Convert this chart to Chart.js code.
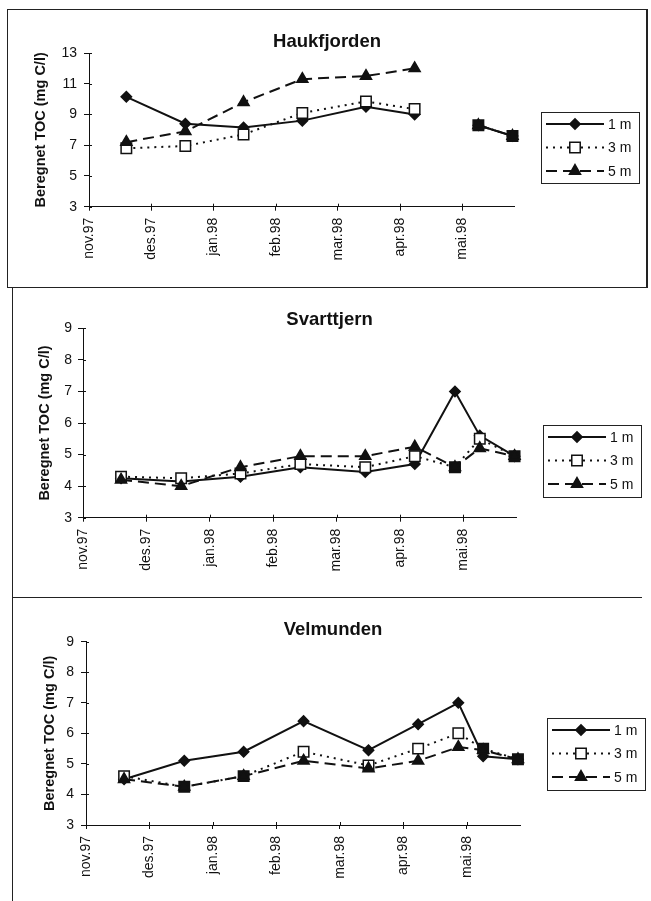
<!DOCTYPE html>
<html>
<head>
<meta charset="utf-8">
<title>Beregnet TOC</title>
<script src="https://cdn.jsdelivr.net/npm/chart.js@4.4.1/dist/chart.umd.min.js"></script>
<style>
  html, body { margin: 0; padding: 0; background: #fff; }
  body { width: 651px; height: 901px; position: relative; overflow: hidden; }
  .rule { position: absolute; background: #222; }
  canvas { position: absolute; left: 0; }
</style>
</head>
<body>
<!-- panel frames -->
<div class="rule" style="left:7px;top:9px;width:641px;height:1px"></div>
<div class="rule" style="left:7px;top:9px;width:1px;height:279px"></div>
<div class="rule" style="left:646px;top:9px;width:2px;height:279px"></div>
<div class="rule" style="left:7px;top:287px;width:641px;height:1px"></div>
<div class="rule" style="left:12px;top:287px;width:1px;height:614px"></div>
<div class="rule" style="left:12px;top:597px;width:630px;height:1px"></div>

<canvas id="haukfjorden" width="651" height="290" style="top:0px"></canvas>
<canvas id="svarttjern" width="651" height="305" style="top:290px"></canvas>
<canvas id="velmunden" width="651" height="304" style="top:597px"></canvas>

<script>
// Month ticks along the time axis
const monthLabels = ['nov.97', 'des.97', 'jan.98', 'feb.98', 'mar.98', 'apr.98', 'mai.98'];
// Sampling dates
const sampleDates = ['1997-11-19', '1997-12-18', '1998-01-16', '1998-02-13', '1998-03-15',
                     '1998-04-08', '1998-04-27', '1998-05-09', '1998-05-26'];
const axisEndDate = '1998-05-27';
const depthLabels = ['1 m', '3 m', '5 m'];

// TOC (mg C/l) per depth
const haukfjorden1m = [10.15, 8.4, 8.15, 8.6, 9.5, 9.0, null, 8.3, 7.6];
const haukfjorden3m = [6.8, 6.95, 7.7, 9.1, 9.85, 9.35, null, 8.3, 7.6];
const haukfjorden5m = [7.2, 7.9, 9.8, 11.3, 11.5, 12.0, null, 8.3, 7.6];

const svarttjern1m = [4.25, 4.15, 4.3, 4.6, 4.45, 4.7, 7.0, 5.6, 4.95];
const svarttjern3m = [4.3, 4.25, 4.4, 4.7, 4.6, 4.95, 4.6, 5.5, 4.95];
const svarttjern5m = [4.2, 4.0, 4.6, 4.95, 4.95, 5.25, 4.6, 5.2, 4.95];

const velmunden1m = [4.5, 5.1, 5.4, 6.4, 5.45, 6.3, 7.0, 5.25, 5.15];
const velmunden3m = [4.6, 4.25, 4.6, 5.4, 4.95, 5.5, 6.0, 5.5, 5.15];
const velmunden5m = [4.5, 4.25, 4.6, 5.1, 4.85, 5.1, 5.55, 5.45, 5.15];

// Y tick values
const haukTicks = [3, 5, 7, 9, 11, 13];
const lakeTicks = [3, 4, 5, 6, 7, 8, 9];

const FONT = '"Liberation Sans", Arial, Helvetica, sans-serif';
const INK = '#111';

// months since 1 Nov 1997, with the day as a fraction of its month
function monthIndex(s) {
  const [y, m, d] = s.split('-').map(Number);
  const days = new Date(y, m, 0).getDate();
  return (y - 1997) * 12 + (m - 1) - 10 + (d - 1) / days;
}

const seriesStyles = [
  { pointStyle: 'rectRot', radius: 5.2, fill: INK, dash: [], order: 2 },
  { pointStyle: 'rect', radius: 7.4, fill: '#fff', dash: [2, 5], order: 1 },
  { pointStyle: 'triangle', radius: 6.4, fill: INK, dash: [11, 6], order: 0 }
];

// Title, legend box and inner halves of the cross tick marks
const panelDecor = {
  id: 'panelDecor',
  afterDraw(chart) {
    const o = chart.options.plugins.panelDecor;
    const ctx = chart.ctx;
    const xs = chart.scales.x, ys = chart.scales.y;
    ctx.save();
    ctx.strokeStyle = INK;
    ctx.lineWidth = 1;
    ctx.beginPath();
    xs.ticks.forEach(t => {
      const px = Math.round(xs.getPixelForValue(t.value)) + 0.5;
      ctx.moveTo(px, ys.bottom);
      ctx.lineTo(px, ys.bottom - 3);
    });
    ys.ticks.forEach(t => {
      const py = Math.round(ys.getPixelForValue(t.value)) + 0.5;
      ctx.moveTo(xs.left, py);
      ctx.lineTo(xs.left + 3, py);
    });
    ctx.stroke();

    ctx.fillStyle = INK;
    ctx.font = 'bold 18.5px ' + FONT;
    ctx.textAlign = 'center';
    ctx.textBaseline = 'middle';
    ctx.fillText(o.title, o.titleX, o.titleY);

    const L = o.legend;
    ctx.lineWidth = 1;
    ctx.strokeStyle = '#222';
    ctx.strokeRect(Math.round(L.x) + 0.5, Math.round(L.y) + 0.5, L.w, L.h);
    ctx.font = '14px ' + FONT;
    ctx.textAlign = 'left';
    chart.data.datasets.forEach((ds, i) => {
      const st = seriesStyles[i];
      const ry = L.y + 12 + i * 23.5;
      ctx.save();
      ctx.strokeStyle = INK;
      ctx.lineWidth = 2;
      ctx.setLineDash(st.dash);
      ctx.beginPath();
      ctx.moveTo(L.x + 5, ry);
      ctx.lineTo(L.x + 63, ry);
      ctx.stroke();
      ctx.restore();
      ctx.save();
      ctx.fillStyle = st.fill;
      ctx.strokeStyle = INK;
      ctx.lineWidth = 1.5;
      Chart.helpers.drawPoint(ctx, { pointStyle: st.pointStyle, radius: st.radius, rotation: 0, borderWidth: 1.5 }, L.x + 34, ry);
      ctx.restore();
      ctx.fillStyle = INK;
      ctx.fillText(ds.label, L.x + 67, ry + 1);
    });
    ctx.restore();
  }
};

function buildPanel(id, title, series, yTicks, lay) {
  const xs = sampleDates.map(monthIndex);
  const deepest = series[series.length - 1];
  const datasets = series.map((vals, i) => {
    const st = seriesStyles[i];
    // a hollow square that coincides with the 5 m triangle prints as a solid square
    const fill = st.fill === '#fff'
      ? c => (vals[c.dataIndex] != null && deepest[c.dataIndex] != null &&
              Math.abs(vals[c.dataIndex] - deepest[c.dataIndex]) < 0.06 ? INK : '#fff')
      : st.fill;
    return {
      label: depthLabels[i],
      data: vals.map((v, k) => ({ x: xs[k], y: v })),
      borderColor: INK,
      borderWidth: 2,
      borderDash: st.dash,
      pointStyle: st.pointStyle,
      pointRadius: st.radius,
      pointBackgroundColor: fill,
      pointBorderColor: INK,
      pointBorderWidth: 1.5,
      tension: 0,
      spanGaps: false,
      clip: false,
      order: st.order
    };
  });

  return new Chart(document.getElementById(id), {
    type: 'line',
    data: { datasets },
    options: {
      responsive: false,
      animation: false,
      events: [],
      layout: { padding: { left: lay.padLeft, right: lay.padRight, top: lay.padTop, bottom: lay.padBottom } },
      scales: {
        x: {
          type: 'linear',
          min: 0,
          max: monthIndex(axisEndDate),
          afterBuildTicks: s => { s.ticks = monthLabels.map((_, i) => ({ value: i })); },
          afterFit: s => { s.height = 60; },
          border: { display: true, color: INK, width: 1 },
          grid: { display: true, drawOnChartArea: false, drawTicks: true, tickLength: 4, tickColor: INK },
          ticks: {
            autoSkip: false,
            minRotation: 90,
            maxRotation: 90,
            padding: 7,
            color: INK,
            font: { family: FONT, size: 14 },
            callback: v => monthLabels[Math.round(v)]
          }
        },
        y: {
          min: yTicks[0],
          max: yTicks[yTicks.length - 1],
          afterBuildTicks: s => { s.ticks = yTicks.map(v => ({ value: v })); },
          afterFit: s => { s.width = lay.yWidth; },
          border: { display: true, color: INK, width: 1 },
          grid: { display: true, drawOnChartArea: false, drawTicks: true, tickLength: 5, tickColor: INK },
          ticks: { padding: lay.tickPad, color: INK, font: { family: FONT, size: 14 } },
          title: {
            display: true,
            text: 'Beregnet TOC (mg C/l)',
            color: INK,
            font: { family: FONT, size: 14.5, weight: 'bold' },
            padding: { top: 4, bottom: 0 }
          }
        }
      },
      plugins: {
        legend: { display: false },
        tooltip: { enabled: false },
        panelDecor: {
          title: title,
          titleX: lay.titleX,
          titleY: lay.titleY,
          legend: lay.legend
        }
      }
    },
    plugins: [panelDecor]
  });
}

buildPanel('haukfjorden', 'Haukfjorden', [haukfjorden1m, haukfjorden3m, haukfjorden5m], haukTicks, {
  padLeft: 28.3, yWidth: 60.7, padRight: 136.5, padTop: 53, padBottom: 23.3, tickPad: 7,
  titleX: 327, titleY: 42,
  legend: { x: 541, y: 112, w: 98, h: 71 }
});

buildPanel('svarttjern', 'Svarttjern', [svarttjern1m, svarttjern3m, svarttjern5m], lakeTicks, {
  padLeft: 32.1, yWidth: 50.9, padRight: 134.4, padTop: 38.3, padBottom: 17.3, tickPad: 6,
  titleX: 329.5, titleY: 30,
  legend: { x: 543, y: 135, w: 98, h: 72 }
});

buildPanel('velmunden', 'Velmunden', [velmunden1m, velmunden3m, velmunden5m], lakeTicks, {
  padLeft: 37.3, yWidth: 48.7, padRight: 131, padTop: 44.7, padBottom: 16, tickPad: 7,
  titleX: 333, titleY: 33,
  legend: { x: 547, y: 121, w: 98, h: 72 }
});
</script>
</body>
</html>
